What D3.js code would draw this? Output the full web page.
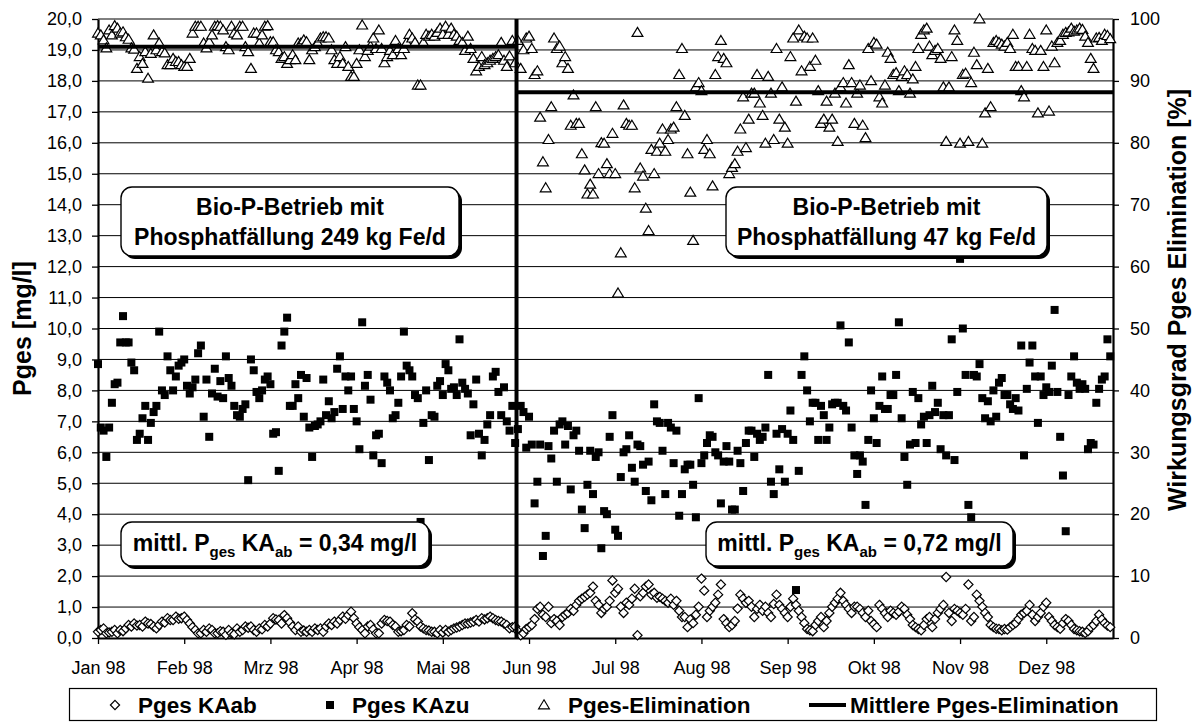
<!DOCTYPE html>
<html><head><meta charset="utf-8">
<script src="https://cdn.jsdelivr.net/npm/d3@7"></script>
<style>
body{margin:0;background:#fff}
svg{display:block}
text{font-family:"Liberation Sans",Arial,Helvetica,sans-serif;fill:#000}
</style>
</head><body>
<svg id="chart" width="1195" height="722"></svg>
<script>
// ---------- data ----------
const startYear = 1998;
const monthLabels = ["Jan 98","Feb 98","Mrz 98","Apr 98","Mai 98","Jun 98","Jul 98","Aug 98","Sep 98","Okt 98","Nov 98","Dez 98"];
const monthTickDays = [0,31,62,93,124,155,186,217,248,279,310,341];
const leftTickValues = [0,1,2,3,4,5,6,7,8,9,10,11,12,13,14,15,16,17,18,19,20];
const rightTickValues = [0,10,20,30,40,50,60,70,80,90,100];

// Pges KAab [mg/l], daily from 1 Jan 1998
const pgesKAab = [
0.20,0.26,0.31,0.15,0.18,0.20,0.26,0.15,0.26,0.22,0.31,0.42,0.37,0.47,0.40,0.42,0.37,0.53,0.47,0.45,
0.37,0.31,0.42,0.53,0.50,0.64,0.58,0.58,0.69,0.62,0.64,0.69,0.58,0.47,0.35,0.26,0.15,0.15,0.26,0.20,
0.31,0.26,0.15,0.15,0.22,0.20,0.10,0.26,0.15,0.12,0.31,0.20,0.26,0.37,0.33,0.37,0.26,0.20,0.31,0.28,
0.42,0.37,0.47,0.64,0.60,0.58,0.47,0.74,0.64,0.50,0.37,0.26,0.37,0.20,0.24,0.20,0.26,0.20,0.31,0.26,
0.31,0.20,0.37,0.47,0.42,0.53,0.47,0.58,0.69,0.62,0.74,0.85,0.64,0.47,0.35,0.26,0.15,0.37,0.42,0.28,
0.15,0.15,0.47,0.58,0.55,0.53,0.42,0.37,0.20,0.22,0.26,0.42,0.37,0.80,0.60,0.53,0.37,0.31,0.26,0.24,
0.20,0.20,0.15,0.26,0.18,0.26,0.20,0.26,0.31,0.34,0.37,0.42,0.47,0.47,0.50,0.53,0.58,0.53,0.64,0.60,
0.64,0.69,0.64,0.58,0.55,0.53,0.47,0.42,0.31,0.35,0.37,
0.22,0.09,0.15,0.29,0.35,0.42,0.61,0.94,1.01,0.75,0.68,1.01,0.48,0.61,0.55,0.42,0.68,0.75,0.81,0.94,
0.88,1.07,1.20,1.27,1.33,1.40,1.46,1.66,1.20,1.07,
0.81,0.94,1.01,1.20,1.86,1.46,1.59,1.01,0.81,1.14,1.07,1.27,1.59,0.09,1.35,1.46,1.66,1.73,1.40,1.46,
1.30,1.33,1.27,1.20,1.14,1.27,1.07,1.20,0.88,0.68,0.68,0.35,0.60,0.48,0.75,1.01,1.92,1.53,0.68,0.88,
1.01,1.14,1.40,1.73,0.61,0.48,0.35,0.42,0.55,0.95,1.40,1.27,1.14,1.20,1.01,0.68,0.94,1.07,0.88,1.01,
0.81,0.68,1.10,1.40,1.07,0.94,0.81,0.68,1.01,1.27,1.07,0.88,0.68,0.48,0.29,0.25,0.22,0.42,0.55,0.68,
0.35,0.55,0.81,1.01,1.14,1.27,1.46,1.20,1.07,0.94,0.81,1.01,
1.01,0.94,0.81,0.68,0.88,0.55,0.45,0.35,1.07,0.94,0.80,0.68,0.88,0.81,0.75,0.85,1.01,0.94,0.75,0.61,
0.42,0.35,0.29,0.25,0.42,0.61,0.68,0.35,0.61,0.81,0.94,1.07,1.97,0.81,0.55,0.94,0.88,0.81,0.75,0.94,
1.73,0.55,0.68,1.40,1.20,1.01,0.81,0.68,0.42,0.35,0.30,0.29,0.25,0.29,0.27,0.35,0.42,0.48,0.61,0.75,
0.81,0.88,1.07,0.75,0.55,0.68,0.81,1.01,1.14,0.68,0.55,0.42,0.35,0.30,0.48,0.61,0.55,0.42,0.29,0.25,
0.22,0.20,0.16,0.22,0.35,0.42,0.55,0.75,0.60,0.48,0.40,0.35
];

// Pges KAzu [mg/l], daily from 1 Jan 1998
const pgesKAzu = [
8.85,6.8,6.7,5.85,6.8,7.6,8.2,8.25,9.55,10.4,9.55,9.55,8.9,8.65,6.4,6.6,7.1,7.5,6.4,6.95,
7.3,7.5,9.9,8.0,7.85,9.1,8.65,8.0,8.45,8.8,8.9,9.0,8.15,7.9,8.1,8.35,9.2,9.45,7.15,8.35,
6.5,7.9,8.7,7.8,8.3,7.75,9.1,8.4,8.15,7.5,7.2,7.15,7.4,7.55,5.1,9.0,8.65,7.95,7.75,8.0,
8.35,8.45,8.2,6.6,6.65,5.4,9.45,9.9,10.35,7.5,7.5,8.2,7.75,8.5,7.15,8.4,6.8,5.85,6.85,6.9,
7.0,8.35,7.2,7.65,7.1,7.3,8.7,9.1,7.4,8.45,8.0,
8.45,7.4,7.0,6.1,10.2,8.15,8.5,7.7,5.9,6.55,6.6,5.65,8.45,8.25,8.0,7.1,7.2,7.6,8.45,9.9,
8.8,8.65,8.45,7.85,7.75,3.75,6.95,8.0,5.75,7.2,7.15,8.15,8.3,7.85,8.85,8.65,8.05,8.1,7.85,9.65,
8.25,8.05,7.9,6.55,7.55,8.35,6.6,5.9,6.4,6.9,7.2,8.45,8.6,7.95,7.2,8.1,7.0,6.7,7.5,6.3,
6.75,7.5,7.3,6.15,7.15,6.25,4.35,5.05,6.25,2.65,3.3,6.2,5.8,6.7,5.05,6.9,7.0,6.25,6.85,4.8,
6.55,6.7,6.05,4.15,3.55,4.95,6.05,4.65,5.85,6.0,
2.9,4.1,4.0,6.5,7.2,3.5,3.3,5.2,6.0,6.1,6.55,5.5,5.05,6.25,6.2,5.6,4.75,5.7,4.45,7.55,
7.0,6.95,6.05,4.65,6.95,6.8,5.65,6.7,3.95,4.65,5.45,5.6,5.6,4.95,3.9,7.75,5.65,5.9,6.3,6.55,
6.5,6.0,5.9,4.35,5.7,6.2,5.7,4.15,4.15,6.05,5.65,4.75,6.3,6.7,6.7,5.85,6.6,6.4,6.5,6.8,
8.5,5.05,4.65,6.6,5.45,6.75,5.05,6.6,7.35,6.4,1.55,5.4,8.5,9.1,8.0,7.0,7.6,7.6,6.4,7.5,
7.2,6.4,6.8,7.55,7.6,7.6,10.1,7.5,7.35,9.55,6.8,5.9,5.3,
5.9,5.7,4.3,6.4,8.0,7.1,6.3,7.5,8.45,7.4,7.4,7.85,7.85,8.5,10.2,7.1,5.85,4.95,6.25,7.95,
6.3,7.75,6.9,7.15,6.3,7.2,8.15,7.3,7.6,6.1,7.2,5.9,7.2,9.65,5.75,7.95,12.25,10.0,8.5,4.3,
3.9,8.5,8.45,8.85,7.75,7.1,7.65,7.0,8.0,7.15,8.25,8.4,7.85,7.85,7.55,7.4,7.75,7.35,9.45,5.9,
8.05,8.9,9.45,8.45,6.95,8.45,7.85,8.1,7.95,8.8,10.6,7.95,6.5,5.25,3.45,7.85,8.45,9.1,8.25,8.05,
8.2,8.05,6.1,6.3,6.25,7.6,8.05,8.35,8.45,9.65,9.1
];

// Pges-Elimination [%], daily from 1 Jan 1998
const pgesElimination = [
97.7,97.4,96.6,95.3,98.2,97.4,98.9,98.5,97.7,97.9,97.1,96.7,95.3,95.1,92.0,93.9,92.8,94.7,90.4,94.4,
97.4,95.0,96.1,94.7,94.5,92.6,92.6,93.6,93.1,93.1,92.6,
92.3,92.3,93.6,97.7,98.8,98.8,98.8,96.1,95.3,96.3,97.4,98.8,98.9,98.8,98.2,95.5,95.0,98.8,97.7,97.4,
98.8,98.8,95.5,94.7,92.0,97.7,97.7,96.1,
97.4,98.8,98.9,96.3,96.3,95.0,94.7,93.6,93.9,92.8,93.4,94.2,93.4,96.1,96.1,96.6,96.3,93.4,95.0,95.5,
96.1,96.9,97.1,97.1,96.9,95.0,93.4,92.8,93.9,92.8,95.5,
92.3,90.7,90.7,92.8,95.0,99.0,93.9,94.9,95.6,96.9,95.2,98.2,95.2,92.9,93.9,94.9,94.2,96.5,95.2,94.2,
95.2,96.2,97.5,96.9,96.2,89.3,89.3,96.2,97.5,97.2,
97.5,97.2,97.8,98.5,97.5,98.8,97.5,98.5,97.5,97.2,96.5,96.2,94.9,97.2,95.2,93.6,91.6,92.3,93.9,92.6,
92.9,93.3,93.6,93.9,94.2,96.2,93.3,92.3,94.0,96.5,92.9,
96.5,92.0,95.0,96.9,97.2,95.2,91.0,91.6,84.1,76.9,72.7,80.5,85.8,96.9,95.2,95.6,92.9,93.9,92.0,82.8,
87.7,83.1,83.1,78.2,75.6,71.7,73.3,71.7,85.8,75.0,
80.0,79.9,76.6,75.0,81.5,75.0,55.7,62.2,86.1,83.1,82.8,82.8,72.7,97.8,75.9,74.6,69.4,65.8,78.9,75.0,
78.6,79.9,82.2,78.6,80.5,82.2,82.5,85.8,91.0,95.2,84.4,
78.2,72.0,64.2,89.0,89.7,88.4,78.9,80.5,78.2,73.0,91.0,93.9,96.5,93.6,92.9,75.0,76.0,76.6,78.6,82.2,
87.4,79.2,83.8,88.0,88.0,91.0,86.4,84.4,79.9,90.7,88.0,
80.5,95.2,83.8,89.0,82.5,79.9,93.9,96.9,86.7,98.2,91.6,97.2,96.9,92.3,96.9,93.3,88.4,83.1,83.8,86.7,
82.5,83.8,88.0,80.2,89.0,89.7,86.4,92.6,89.7,83.1,
88.0,89.3,82.8,80.8,95.2,90.0,96.2,95.9,87.4,86.4,89.3,94.6,93.6,91.0,91.3,88.4,90.7,91.6,91.0,88.0,
90.3,92.3,95.2,97.5,98.2,98.5,95.6,94.2,94.9,95.2,93.6,
89.0,80.2,89.0,93.9,98.2,96.5,79.9,91.0,91.2,80.2,89.7,94.6,92.6,100.0,
79.9,84.8,92.0,85.8,96.2,96.5,96.2,95.9,95.6,96.2,95.2,97.5,92.3,92.3,88.4,87.4,92.3,97.5,95.2,94.9,
84.8,94.9,92.3,98.2,85.1,95.6,92.9,96.2,96.5,97.5,97.8,97.9,98.5,98.0,98.2,98.5,98.3,97.2,96.2,93.6,
92.0,96.9,97.0,96.5,97.5,97.3,96.8
];

// Mittlere Pges-Elimination per operating period [%]
const periodStartDays = [0, 150.5];
const periodEndDays = [150.5, 365];
const periodMeanElimination = [95.5, 88.15];
const periodChangeDay = 150.5;

// ---------- chart ----------
const plot = {left: 98, right: 1113, top: 19, bottom: 638};
const svg = d3.select("#chart");
const dayToDate = d => new Date(startYear, 0, 1 + Math.floor(d), (d % 1) * 24);

const x = d3.scaleTime().domain([new Date(startYear,0,1), new Date(startYear+1,0,1)]).range([plot.left, plot.right]);
const y = d3.scaleLinear().domain([0,20]).range([plot.bottom, plot.top]);
const yR = d3.scaleLinear().domain([0,100]).range([plot.bottom, plot.top]);
const FONT = '"Liberation Sans",Arial,Helvetica,sans-serif';

// gridlines
svg.append("g").selectAll("line").data(leftTickValues.filter(v => v > 0)).join("line")
  .attr("x1", plot.left).attr("x2", plot.right)
  .attr("y1", d => y(d)).attr("y2", d => y(d))
  .attr("stroke", "#000").attr("stroke-width", 1);

// axes
const fmtComma = d => d3.format(".1f")(d).replace(".", ",");
const gL = svg.append("g").attr("transform", `translate(${plot.left},0)`)
  .call(d3.axisLeft(y).tickValues(leftTickValues).tickFormat(fmtComma).tickSize(6).tickPadding(10).tickSizeOuter(0));
const gR = svg.append("g").attr("transform", `translate(${plot.right},0)`)
  .call(d3.axisRight(yR).tickValues(rightTickValues).tickFormat(d3.format("d")).tickSize(6).tickPadding(11).tickSizeOuter(0));
const gB = svg.append("g").attr("transform", `translate(0,${plot.bottom})`)
  .call(d3.axisBottom(x).tickValues(monthTickDays.map(dayToDate))
    .tickFormat((d,i) => monthLabels[i]).tickSize(6).tickPadding(17).tickSizeOuter(0));
[gL, gR, gB].forEach(g => {
  g.selectAll("text").style("font-family", FONT).style("font-size", "18px").attr("fill", "#000");
  g.selectAll(".tick line").attr("stroke", "#000").attr("stroke-width", 1.3);
  g.select(".domain").attr("stroke", "#000").attr("stroke-width", 2.2);
});

// axis titles
svg.append("text").attr("transform", `translate(22,${(plot.top+plot.bottom)/2}) rotate(-90)`)
  .attr("text-anchor", "middle").attr("dy", "0.35em")
  .style("font-size", "25px").style("font-weight", "bold").text("Pges [mg/l]");
svg.append("text").attr("transform", `translate(1177,300) rotate(-90)`)
  .attr("text-anchor", "middle").attr("dy", "0.35em")
  .style("font-size", "25px").style("font-weight", "bold").text("Wirkungsgrad Pges Elimination [%]");

// markers
const diamondPath = "M0,-4.6L4.6,0L0,4.6L-4.6,0Z";
const trianglePath = "M0,-5.2L5.4,3.8L-5.4,3.8Z";

svg.append("g").selectAll("path").data(pgesKAab).join("path")
  .attr("d", diamondPath)
  .attr("transform", (v,i) => `translate(${x(dayToDate(i))},${y(v)})`)
  .attr("fill", "#fff").attr("stroke", "#000").attr("stroke-width", 1.2);

svg.append("g").selectAll("rect").data(pgesKAzu).join("rect")
  .attr("x", (v,i) => x(dayToDate(i)) - 4).attr("y", v => y(v) - 4)
  .attr("width", 8).attr("height", 8).attr("fill", "#000");

svg.append("g").selectAll("path").data(pgesElimination).join("path")
  .attr("d", trianglePath)
  .attr("transform", (v,i) => `translate(${x(dayToDate(i))},${yR(v)})`)
  .attr("fill", "#fff").attr("stroke", "#000").attr("stroke-width", 1.2);

// mean elimination lines
svg.append("g").selectAll("line").data(periodMeanElimination).join("line")
  .attr("x1", (v,i) => x(dayToDate(periodStartDays[i])))
  .attr("x2", (v,i) => x(dayToDate(periodEndDays[i])))
  .attr("y1", v => yR(v)).attr("y2", v => yR(v))
  .attr("stroke", "#000").attr("stroke-width", 4);

// period change line
svg.append("line")
  .attr("x1", x(dayToDate(periodChangeDay))).attr("x2", x(dayToDate(periodChangeDay)))
  .attr("y1", plot.top).attr("y2", plot.bottom)
  .attr("stroke", "#000").attr("stroke-width", 4);

// annotation boxes
function box(x0, y0, w, h) {
  svg.append("rect").attr("x", x0+3).attr("y", y0+3).attr("width", w).attr("height", h)
    .attr("rx", 11).attr("fill", "#000");
  svg.append("rect").attr("x", x0).attr("y", y0).attr("width", w).attr("height", h)
    .attr("rx", 11).attr("fill", "#fff").attr("stroke", "#000").attr("stroke-width", 1.4);
}
function twoLineBox(x0, y0, w, h, l1, l2) {
  box(x0, y0, w, h);
  const t = svg.append("text").attr("text-anchor", "middle")
    .style("font-size", "23px").style("font-weight", "bold");
  t.append("tspan").attr("x", x0 + w/2).attr("y", y0 + 28).text(l1);
  t.append("tspan").attr("x", x0 + w/2).attr("y", y0 + 58).text(l2);
}
twoLineBox(121, 187, 338, 69, "Bio-P-Betrieb mit", "Phosphatfällung 249 kg Fe/d");
twoLineBox(726, 187, 321, 69, "Bio-P-Betrieb mit", "Phosphatfällung 47 kg Fe/d");

function meanBox(x0, y0, w, h, val) {
  box(x0, y0, w, h);
  const t = svg.append("text").attr("x", x0 + w/2).attr("y", y0 + 29).attr("text-anchor", "middle")
    .style("font-size", "23px").style("font-weight", "bold");
  t.append("tspan").text("mittl. P");
  t.append("tspan").attr("dy", 6).style("font-size", "15px").text("ges");
  t.append("tspan").attr("dy", -6).text(" KA");
  t.append("tspan").attr("dy", 6).style("font-size", "15px").text("ab");
  t.append("tspan").attr("dy", -6).text(` = ${val} mg/l`);
}
meanBox(121, 522, 308, 44, "0,34");
meanBox(706, 522, 307, 44, "0,72");

// legend
const lg = svg.append("g");
lg.append("rect").attr("x", 69.5).attr("y", 688.5).attr("width", 1087).attr("height", 32)
  .attr("fill", "#fff").attr("stroke", "#000").attr("stroke-width", 1.2);
const ly = 705;
lg.append("path").attr("d", diamondPath).attr("transform", `translate(115,${ly})`)
  .attr("fill", "#fff").attr("stroke", "#000").attr("stroke-width", 1.2);
lg.append("rect").attr("x", 326).attr("y", ly-4).attr("width", 8).attr("height", 8).attr("fill", "#000");
lg.append("path").attr("d", trianglePath).attr("transform", `translate(544,${ly})`)
  .attr("fill", "#fff").attr("stroke", "#000").attr("stroke-width", 1.2);
lg.append("line").attr("x1", 809).attr("x2", 846).attr("y1", ly).attr("y2", ly)
  .attr("stroke", "#000").attr("stroke-width", 4);
const legendItems = [[138,"Pges KAab"],[352,"Pges KAzu"],[568,"Pges-Elimination"],[850,"Mittlere Pges-Elimination"]];
lg.selectAll("text.lt").data(legendItems).join("text").attr("class","lt")
  .attr("x", d => d[0]).attr("y", ly + 8)
  .style("font-size", "22.5px").style("font-weight", "bold").text(d => d[1]);
</script>
</body></html>
